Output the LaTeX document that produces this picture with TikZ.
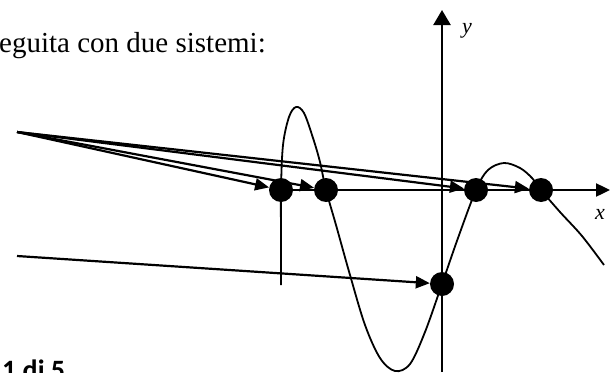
\documentclass[tikz,border=0pt]{standalone}
\usepackage{fontspec}
\setmainfont{Liberation Serif}
\newfontfamily\calfont{Carlito}
\usetikzlibrary{arrows.meta}
\tikzset{
  dot/.style={circle,fill=black,draw=none,minimum size=24pt,inner sep=0pt},
  arr/.style={line width=2.2pt,-{Triangle[length=14pt,width=12pt]}},
  axisline/.style={line width=2.4pt},
  curveline/.style={line width=1.8pt},
  lbl/.style={inner sep=0pt,font=\fontsize{22}{24}\selectfont\itshape}
}
\begin{document}
\begin{tikzpicture}[x=1pt,y=-1pt]
\useasboundingbox (0,0) rectangle (610,372);
\clip (0,0) rectangle (610,372);
% text
\node[anchor=base east,inner sep=0pt,font=\fontsize{29}{32}\selectfont] (title) at (266,52) {eguita con due sistemi:};
\node[anchor=base west,inner sep=0pt,font=\calfont\bfseries\fontsize{28}{30}\selectfont] (page) at (2,379) {1 di 5};
% dots
\node[dot] (d1) at (281,190) {};
\node[dot] (d2) at (326,190) {};
\node[dot] (d3) at (476,190) {};
\node[dot] (d4) at (541,190) {};
\node[dot] (d5) at (442,284) {};
% axes
\coordinate (ybot) at (442,372);
\coordinate (ytop) at (442,10);
\coordinate (xtip) at (610,190);
\draw[axisline,-{Triangle[length=15pt,width=17pt]}] (ybot) -- (ytop);
\draw[axisline,-{Triangle[length=14pt,width=13pt]}] (d1.center) -- (xtip);
\node[lbl] (ylab) at (467,31) {y};
\node[lbl] (xlab) at (600,214) {x};
% curve
\draw[curveline] plot[smooth,tension=0.55] coordinates {
 (281,285) (281,240) (281,190) (283,145) (289,117) (296,107) (304,113) (313,138)
 (320,162) (326,190) (336,225) (350,275) (365,325) (380,358) (395,371) (410,364)
 (425,332) (442,284) (458,238) (476,190) (488,170) (504,163) (520,168) (532,178)
 (541,190) (560,212) (582,236) (604,265)};
% arrows from left
\coordinate (s1) at (17,132);
\coordinate (s2) at (17,256);
\draw[arr] (s1) -- (d1);
\draw[arr] (s1) -- (d2);
\draw[arr] (s1) -- (d3);
\draw[arr] (s1) -- (d4);
\draw[arr] (s2) -- (d5);
\end{tikzpicture}
\end{document}
